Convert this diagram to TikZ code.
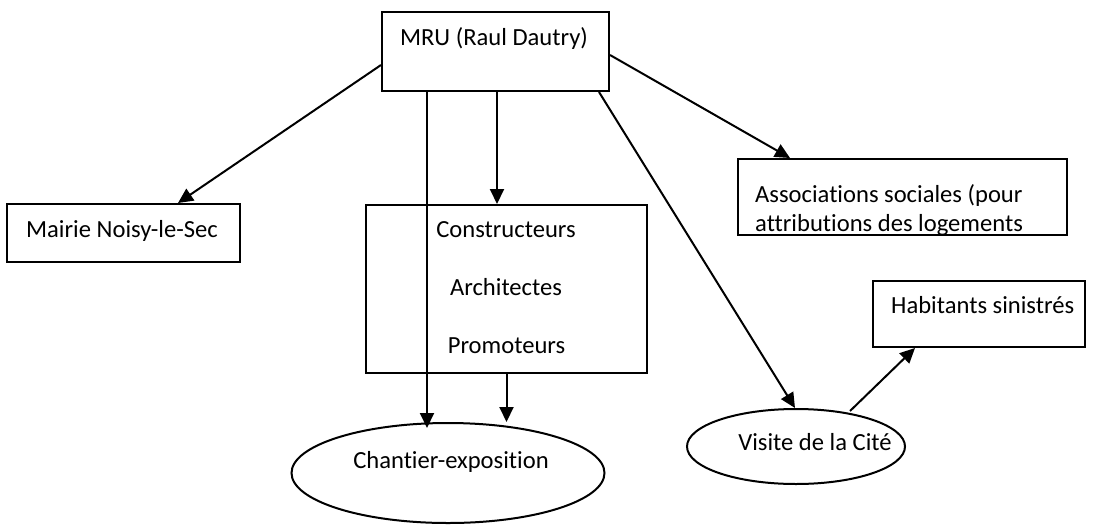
\documentclass[tikz,border=0pt]{standalone}
\usepackage{fontspec}
\setmainfont{Carlito}[Ligatures=NoCommon]
\usetikzlibrary{arrows.meta,shapes.geometric,calc}
\tikzset{
  box/.style={draw,line width=2pt,rectangle,inner sep=0pt},
  oval/.style={draw,line width=2pt,ellipse,inner sep=0pt},
  txt/.style={anchor=base,inner sep=0pt,font=\fontsize{24.6}{30}\selectfont},
  ltxt/.style={anchor=base west,inner sep=0pt,font=\fontsize{24.6}{30}\selectfont},
  arr/.style={line width=2pt,-{Triangle[length=15pt,width=14pt]}},
  ln/.style={line width=2pt}
}
\begin{document}
\begin{tikzpicture}[x=1pt,y=-1pt]
\useasboundingbox (0,0) rectangle (1094,525);
% boxes
\node[box,minimum width=227pt,minimum height=79pt] (mru) at (495.5,51.5) {};
\node[box,minimum width=233pt,minimum height=58pt] (mairie) at (123.5,233) {};
\node[box,minimum width=281pt,minimum height=168pt] (mid) at (506.5,289) {};
\node[box,minimum width=329pt,minimum height=76pt] (assoc) at (902.5,197) {};
\node[box,minimum width=212pt,minimum height=66pt] (hab) at (979,314) {};
\node[oval,minimum width=313pt,minimum height=100pt] (chantier) at (448,473) {};
\node[oval,minimum width=218pt,minimum height=75pt] (visite) at (796,446.5) {};
% texts
\node[txt] (tmru) at (494,45) {MRU (Raul Dautry)};
\node[txt] (tmairie) at (122,237) {Mairie Noisy-le-Sec};
\node[txt] (tcons) at (506,237) {Constructeurs};
\node[txt] (tarch) at (506,295) {Architectes};
\node[txt] (tprom) at (506.5,353) {Promoteurs};
\begin{scope}
\clip (738,159) rectangle (1067,234);
\node[ltxt] (tassoc1) at (755,202) {Associations sociales (pour};
\node[ltxt] (tassoc2) at (755,231) {attributions des logements};
\end{scope}
\node[ltxt] (thab) at (891,313) {Habitants sinistrés};
\node[txt] (tchan) at (451,468) {Chantier-exposition};
\node[txt] (tvis) at (815,450) {Visite de la Cité};
% connectors
\draw[arr] ([yshift=-13.5pt]mru.west) -- ([xshift=54.5pt]mairie.north);
\draw[arr,shorten >=-6pt] ([xshift=-68.5pt]mru.south) -- ([xshift=-68.5pt]mru.south |- chantier.north);
\draw[arr] ([xshift=1.5pt]mru.south) -- ([xshift=1.5pt]mru.south |- mid.north);
\draw[arr] (mid.south) -- (mid.south |- chantier.north);
\draw[arr] ([yshift=-3.5pt]mru.east) -- ([xshift=-112.5pt]assoc.north);
\draw[arr] ([xshift=103.5pt]mru.south) -- ([xshift=-1pt]visite.north);
\draw[arr] ([xshift=54pt,yshift=-3pt]visite.north) -- ([xshift=-64pt]hab.south);
\end{tikzpicture}
\end{document}
